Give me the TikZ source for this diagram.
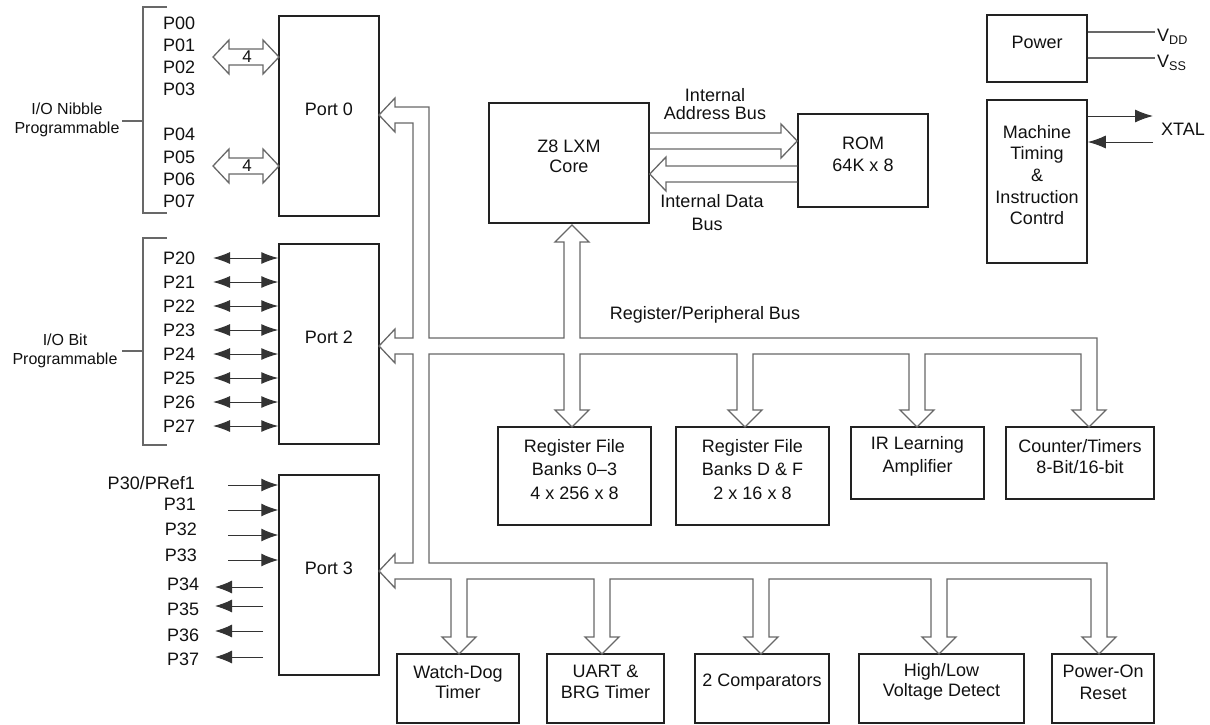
\documentclass[tikz,border=0pt]{standalone}
\usepackage{fontspec}
\setmainfont{Liberation Sans}
\usetikzlibrary{arrows.meta,fit}
\definecolor{boxc}{HTML}{222222}
\definecolor{busc}{HTML}{686868}
\definecolor{pinc}{HTML}{333333}
\definecolor{txt}{HTML}{111111}
\begin{document}
\begin{tikzpicture}[x=1pt,y=-1pt,
  box/.style={draw=boxc,line width=1.5pt,inner sep=0pt,align=center,text=txt,font=\fontsize{18}{22}\selectfont},
  lbl/.style={inner sep=0pt,text=txt,font=\fontsize{18}{22}\selectfont},
  slbl/.style={inner sep=0pt,text=txt,align=center,font=\fontsize{16}{19}\selectfont},
  bus/.style={draw=busc,line width=1.3pt,fill=white,line join=miter},
  brk/.style={draw=busc,line width=1.2pt},
  pin/.style={draw=pinc,line width=1pt},
  tipB/.style={{Latex[length=17pt,width=12pt]}-{Latex[length=17pt,width=12pt]}},
]
\useasboundingbox (0,0) rectangle (1210,724);

% ---------------- boxes
\node[box,fit={(279,16)(379,216)}] (p0) {Port 0};
\node[box,fit={(279,244)(379,444)}] (p2) {Port 2};
\node[box,fit={(279,475)(379,675)}] (p3) {Port 3};
\node[box,fit={(489,103)(649,223)},font=\fontsize{18}{20}\selectfont] (core) {Z8 LXM\\Core};
\node[box,fit={(798,114)(928,207)}] (rom) {};
\node[lbl,align=center] (romt) at (863,154) {ROM\\64K x 8};
\node[box,fit={(987,15)(1087,82)}] (pw) {Power};
\node[box,fit={(987,100)(1087,263)},font=\fontsize{18}{21.7}\selectfont] (mt) {Machine\\Timing\\\&\\Instruction\\Contrd};

\node[box,fit={(498,427)(651,525)},font=\fontsize{18}{23.5}\selectfont] (rf0) {Register File\\Banks 0–3\\4 x 256 x 8};
\node[box,fit={(676,427)(829,525)},font=\fontsize{18}{23.5}\selectfont] (rfd) {Register File\\Banks D \& F\\2 x 16 x 8};
\node[box,fit={(851,427)(984,499)},font=\fontsize{18}{23}\selectfont] (ir) {IR Learning\\Amplifier};
\node[box,fit={(1006,427)(1154,499)},font=\fontsize{18}{21}\selectfont] (ct) {Counter/Timers\\8-Bit/16-bit};

\node[box,fit={(397,654)(519,723)},font=\fontsize{18}{20}\selectfont] (wdt) {Watch-Dog\\Timer};
\node[box,fit={(547,654)(664,723)},font=\fontsize{18}{21}\selectfont] (uart) {UART \&\\BRG Timer};
\node[box,fit={(695,654)(829,723)}] (cmp) {2 Comparators};
\node[box,fit={(859,654)(1024,723)},font=\fontsize{18}{20}\selectfont] (hl) {High/Low\\Voltage Detect};
\node[box,fit={(1052,654)(1154,723)},font=\fontsize{18}{22}\selectfont] (por) {Power-On\\Reset};

% ---------------- peripheral bus (one hollow outline)
\draw[bus] (395,107) -- (429,107) -- (429,338) -- (564,338) -- (564,242) -- (555,242) -- (572,225) -- (589,242) -- (580,242) -- (580,338)
 -- (1097,338) -- (1097,410) -- (1106,410) -- (1089,427) -- (1072,410) -- (1081,410) -- (1081,354)
 -- (925,354) -- (925,410) -- (934,410) -- (917,427) -- (900,410) -- (909,410) -- (909,354)
 -- (753,354) -- (753,410) -- (762,410) -- (745,427) -- (728,410) -- (737,410) -- (737,354)
 -- (580,354) -- (580,410) -- (589,410) -- (572,427) -- (555,410) -- (564,410) -- (564,354)
 -- (429,354) -- (429,563) -- (1107,563) -- (1107,637) -- (1116,637) -- (1099,654) -- (1082,637) -- (1091,637) -- (1091,579)
 -- (947,579) -- (947,637) -- (956,637) -- (939,654) -- (922,637) -- (931,637) -- (931,579)
 -- (769,579) -- (769,637) -- (778,637) -- (761,654) -- (744,637) -- (753,637) -- (753,579)
 -- (610,579) -- (610,637) -- (619,637) -- (602,654) -- (585,637) -- (594,637) -- (594,579)
 -- (467,579) -- (467,637) -- (476,637) -- (459,654) -- (442,637) -- (451,637) -- (451,579)
 -- (395,579) -- (395,588) -- (379,571) -- (395,554) -- (395,563) -- (413,563)
 -- (413,354) -- (395,354) -- (395,363) -- (379,346) -- (395,329) -- (395,338) -- (413,338)
 -- (413,123) -- (395,123) -- (395,132) -- (379,115) -- (395,98) -- cycle;
\node[lbl] (rpb) at (705,315) {Register/Peripheral Bus};

% ---------------- internal buses
\draw[bus,fill=none] (core.east |- 0,133) -- (781,133) -- (781,124) -- (rom.west |- 0,141) -- (781,158) -- (781,149) -- (core.east |- 0,149);
\draw[bus,fill=none] (rom.west |- 0,166) -- (666,166) -- (666,157) -- (core.east |- 0,174) -- (666,191) -- (666,182) -- (rom.west |- 0,182);
\node[lbl,align=center,font=\fontsize{18}{18.5}\selectfont] (iab) at (715,104) {Internal\\Address Bus};
\node[lbl] (idb1) at (712,201) {Internal Data};
\node[lbl] (idb2) at (707,224) {Bus};

% ---------------- Port 0 side
\draw[brk] (167,7) -- (143,7) -- (143,213) -- (167,213);
\draw[brk] (122,121) -- (143,121);
\node[slbl] (nib) at (67,120) {I/O Nibble\\Programmable};
\foreach \n/\y in {00/23,01/45,02/67,03/89,04/134,05/157,06/179,07/201}
  \node[lbl,anchor=west] (p\n) at (163,\y) {P\n};
\draw[bus] (213,57) -- (229,40) -- (229,49) -- (263,49) -- (263,40) -- (279,57) -- (263,74) -- (263,65) -- (229,65) -- (229,74) -- cycle;
\draw[bus] (213,166) -- (229,149) -- (229,158) -- (263,158) -- (263,149) -- (279,166) -- (263,183) -- (263,174) -- (229,174) -- (229,183) -- cycle;
\node[lbl,font=\fontsize{17}{19}\selectfont] (n4a) at (247,57) {4};
\node[lbl,font=\fontsize{17}{19}\selectfont] (n4b) at (247,166) {4};

% ---------------- Port 2 side
\draw[brk] (167,238) -- (143,238) -- (143,445) -- (167,445);
\draw[brk] (122,351) -- (143,351);
\node[slbl] (bit) at (65,351) {I/O Bit\\Programmable};
\foreach \n/\y in {20/258,21/282,22/306,23/330,24/354,25/378,26/402,27/426}{
  \node[lbl,anchor=west] (p\n) at (163,\y) {P\n};
  \draw[pin,tipB] (213,\y) -- (p2.west |- 0,\y);
}

% ---------------- Port 3 side
\node[lbl,anchor=east] (p30) at (195,483) {P30/PRef1};
\node[lbl,anchor=east] (p31) at (196,504) {P31};
\node[lbl,anchor=east] (p32) at (197,529) {P32};
\node[lbl,anchor=east] (p33) at (197,555) {P33};
\foreach \y in {485,510,535,560}
  \draw[pin,-{Latex[length=17pt,width=13pt]}] (228,\y) -- (p3.west |- 0,\y);
\node[lbl,anchor=west] (p34) at (167,584) {P34};
\node[lbl,anchor=west] (p35) at (167,609) {P35};
\node[lbl,anchor=west] (p36) at (167,635) {P36};
\node[lbl,anchor=west] (p37) at (167,659) {P37};
\foreach \y in {587,606,631,657}
  \draw[pin,-{Latex[length=17pt,width=13pt]}] (263,\y) -- (215,\y);

% ---------------- Power / clock
\draw[brk] (pw.east |- 0,32) -- (1155,32);
\draw[brk] (pw.east |- 0,58) -- (1155,58);
\node[lbl,anchor=west] (vdd) at (1157,37) {V\textsubscript{DD}};
\node[lbl,anchor=west] (vss) at (1157,63) {V\textsubscript{SS}};
\draw[pin,-{Latex[length=18pt,width=13pt]}] (mt.east |- 0,116) -- (1153,116);
\draw[pin,-{Latex[length=18pt,width=13pt]}] (1153,142) -- (mt.east |- 0,142);
\node[lbl,anchor=west] (xtal) at (1161,129) {XTAL};
\end{tikzpicture}
\end{document}
